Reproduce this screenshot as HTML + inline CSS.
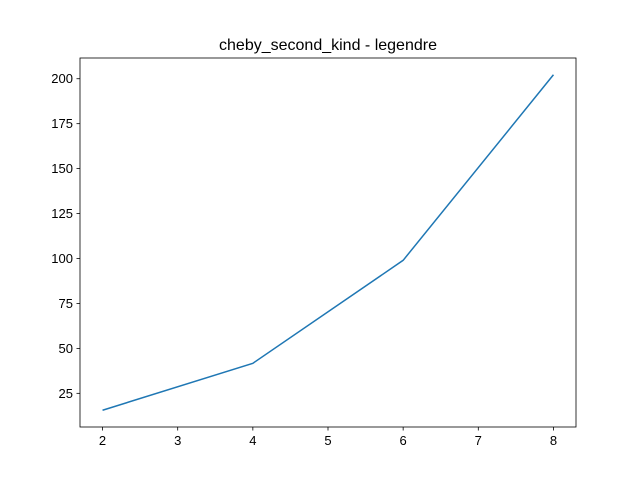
<!DOCTYPE html>
<html><head><meta charset="utf-8"><style>
body{margin:0;background:#fff}
svg{display:block;font-family:"Liberation Sans","DejaVu Sans",sans-serif}
</style></head><body>
<svg id="c" width="640" height="480" viewBox="0 0 640 480">
<rect width="640" height="480" fill="#fff"/>
<text x="328" y="50" text-anchor="middle" font-size="16">cheby_second_kind - legendre</text>
<g id="ticks"></g>
<polyline id="line" fill="none" stroke="#1f77b4" stroke-width="1.5"/>
<rect x="80" y="58" width="496" height="369" fill="none" stroke="#000" stroke-width="0.8"/>
</svg>
<script>
const xValues=[2,4,6,8];
const yValues=[15.6,41.7,99,202.2];
const xTicks=[2,3,4,5,6,7,8];
const yTicks=[25,50,75,100,125,150,175,200];
const L=80,R=576,T=58,B=427;
const xmin=Math.min(...xValues),xmax=Math.max(...xValues);
const ymin=Math.min(...yValues),ymax=Math.max(...yValues);
const xpad=(xmax-xmin)*0.05,ypad=(ymax-ymin)*0.05;
const xs=v=>L+(v-(xmin-xpad))/((xmax+xpad)-(xmin-xpad))*(R-L);
const ys=v=>B-(v-(ymin-ypad))/((ymax+ypad)-(ymin-ypad))*(B-T);
const NS="http://www.w3.org/2000/svg";
const g=document.getElementById('ticks');
function mk(t,a){const e=document.createElementNS(NS,t);for(const k in a)e.setAttribute(k,a[k]);g.appendChild(e);return e;}
xTicks.forEach(v=>{const x=xs(v);
const l=mk('line',{x1:x,x2:x,y1:B,y2:B+3.5,stroke:'#000','stroke-width':0.8});


const t=mk('text',{x:x,y:B+18,'text-anchor':'middle','font-size':13});t.textContent=v;

});
yTicks.forEach(v=>{const y=ys(v);
const l=mk('line',{x1:L-3.5,x2:L,y1:y,y2:y,stroke:'#000','stroke-width':0.8});


const t=mk('text',{x:L-7,y:y+4.5,'text-anchor':'end','font-size':13});t.textContent=v;

});
document.getElementById('line').setAttribute('points',xValues.map((x,i)=>xs(x)+','+ys(yValues[i])).join(' '));
</script>
</body></html>
